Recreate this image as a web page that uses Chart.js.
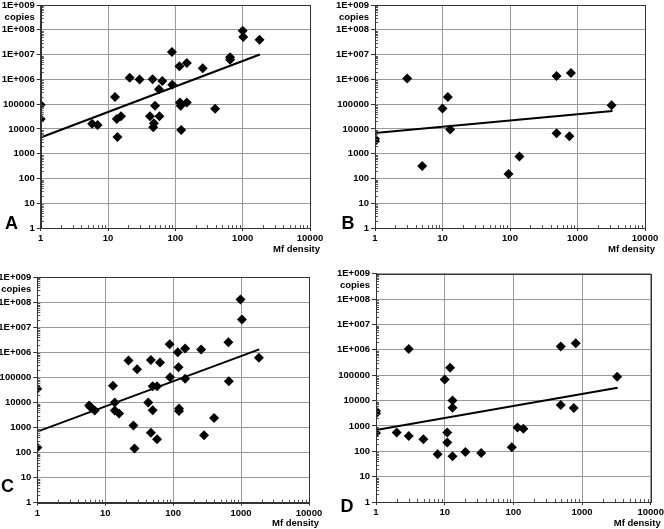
<!DOCTYPE html>
<html>
<head>
<meta charset="utf-8">
<script src="https://cdn.jsdelivr.net/npm/chart.js@4/dist/chart.umd.min.js"></script>
<style>
  html, body { margin: 0; padding: 0; background: #fff; }
  #wrap { position: relative; width: 664px; height: 529px; background: #fff; overflow: hidden; }
  .panel { position: absolute; }
</style>
</head>
<body>
<div id="wrap">
  <div class="panel" style="left:0;top:0;width:332px;height:262px"><canvas id="cA"></canvas></div>
  <div class="panel" style="left:332px;top:0;width:332px;height:262px"><canvas id="cB"></canvas></div>
  <div class="panel" style="left:0;top:262px;width:332px;height:267px"><canvas id="cC"></canvas></div>
  <div class="panel" style="left:332px;top:262px;width:332px;height:267px"><canvas id="cD"></canvas></div>
</div>
<script>
// ---- tick values and labels ----
const xTickValues = [1, 10, 100, 1000, 10000];
const xTickLabels = ['1', '10', '100', '1000', '10000'];
const yTickValues = [1, 10, 100, 1000, 10000, 100000, 1e6, 1e7, 1e8, 1e9];
const yTickLabels = ['1', '10', '100', '1000', '10000', '100000', '1E+006', '1E+007', '1E+008', '1E+009'];
const panelLetters = ['A', 'B', 'C', 'D'];
const xTitle = 'Mf density';
const yTitle = 'copies';

// ---- panel A ----
const aX = [1, 1, 5.8, 7, 12.7, 13.5, 13.8, 15.6, 21, 29.4, 42, 46, 47, 48, 50, 57, 58, 64, 89, 90, 115, 117, 120, 122, 148, 148, 255, 390, 650, 650, 1000, 1020, 1780];
const aY = [95000, 25000, 16000, 14500, 195000, 25000, 4700, 32000, 1170000, 980000, 32000, 1000000, 11700, 17000, 86000, 400000, 32000, 850000, 12600000, 610000, 3400000, 117000, 86000, 9100, 4600000, 117000, 2800000, 65000, 7800000, 6200000, 91000000, 51000000, 40000000];
const aFitX = [1, 1800];
const aFitY = [4500, 10000000];

// ---- panel B ----
const bX = [1, 1, 3, 5, 10, 12, 13, 95, 138, 490, 490, 760, 800, 3200];
const bY = [4000, 3200, 1070000, 320, 67000, 195000, 9400, 150, 760, 1350000, 6700, 5100, 1800000, 89000];
const bFitX = [1, 3300];
const bFitY = [6900, 53000];

// ---- panel C ----
const cX = [1, 1, 5.8, 6.1, 7, 13, 13.8, 13.8, 16, 22, 26, 27, 29.5, 43, 47, 47, 50, 50, 58, 58, 64, 89, 90, 117, 120, 122, 122, 150, 150, 258, 285, 400, 650, 660, 980, 1030, 1830];
const cY = [35000, 160, 7500, 6400, 4800, 46000, 10000, 4800, 3600, 470000, 1200, 145, 210000, 10000, 490000, 620, 44000, 4900, 44000, 340, 390000, 2100000, 100000, 1000000, 250000, 5700, 4500, 1400000, 87000, 1300000, 490, 2400, 2500000, 69000, 126000000, 20000000, 600000];
const cFitX = [1, 1850];
const cFitY = [680, 1300000];

// ---- panel D ----
const dX = [1, 1, 1, 2, 3, 3, 4.9, 7.9, 10, 10.9, 10.9, 12, 13, 13, 13, 20, 34, 95, 115, 140, 490, 490, 760, 810, 3250];
const dY = [3900, 3100, 520, 550, 1070000, 400, 300, 76, 68000, 550, 220, 195000, 10000, 5200, 63, 94, 86, 145, 860, 780, 1350000, 6600, 5100, 1800000, 86000];
const dFitX = [1, 3300];
const dFitY = [690, 32000];

const FONT = '"Liberation Sans", Arial, sans-serif';

function toPts(xs, ys) { return xs.map((x, i) => ({ x: x, y: ys[i] })); }

// layout of each panel (canvas-relative chart area + text positions)
const layouts = [
  { id: 'cA', left: 40.7, top: 2.7, right: 22, bottom: 34, letterX: 11.5, letterY: 224, X: aX, Y: aY, FX: aFitX, FY: aFitY },
  { id: 'cB', left: 43, top: 2.7, right: 19, bottom: 34, letterX: 16, letterY: 224, X: bX, Y: bY, FX: bFitX, FY: bFitY },
  { id: 'cC', left: 37.3, top: 15, right: 23, bottom: 26.3, letterX: 7.5, letterY: 225, X: cX, Y: cY, FX: cFitX, FY: cFitY },
  { id: 'cD', left: 44, top: 11.7, right: 13.3, bottom: 27, letterX: 15, letterY: 245, X: dX, Y: dY, FX: dFitX, FY: dFitY }
];

const decorPlugin = {
  id: 'decor',
  afterDraw(chart, args, opts) {
    const ctx = chart.ctx;
    const ca = chart.chartArea;
    const xs = chart.scales.x, ys = chart.scales.y;
    ctx.save();
    // minor ticks (inward)
    ctx.strokeStyle = '#555';
    ctx.lineWidth = 1;
    ctx.beginPath();
    for (let d = 0; d < xTickValues.length - 1; d++) {
      for (let m = 2; m <= 9; m++) {
        const px = Math.round(xs.getPixelForValue(m * xTickValues[d])) + 0.5;
        ctx.moveTo(px, ca.bottom);
        ctx.lineTo(px, ca.bottom - 3);
      }
    }
    for (let d = 0; d < yTickValues.length - 1; d++) {
      for (let m = 2; m <= 9; m++) {
        const py = Math.round(ys.getPixelForValue(m * yTickValues[d])) + 0.5;
        ctx.moveTo(ca.left, py);
        ctx.lineTo(ca.left + 3, py);
      }
    }
    ctx.stroke();
    // frame
    ctx.strokeStyle = '#333';
    ctx.strokeRect(Math.round(ca.left) + 0.5, Math.round(ca.top) + 0.5, Math.round(ca.right - ca.left), Math.round(ca.bottom - ca.top));
    // texts
    ctx.fillStyle = '#000';
    ctx.font = 'bold 9.5px ' + FONT;
    ctx.textAlign = 'right';
    ctx.textBaseline = 'middle';
    ctx.fillText(yTitle, ca.left - 6, ca.top + 12);
    ctx.fillText(xTitle, ca.right + 10, ca.bottom + 21);
    ctx.font = 'bold 18px ' + FONT;
    ctx.textAlign = 'center';
    ctx.fillText(opts.letter, opts.letterX, opts.letterY);
    ctx.restore();
  }
};

layouts.forEach((L, i) => {
  const ctx = document.getElementById(L.id);
  new Chart(ctx, {
    type: 'scatter',
    data: {
      datasets: [
        {
          data: toPts(L.X, L.Y),
          pointStyle: 'rectRot',
          pointRadius: 5,
          pointHoverRadius: 5,
          backgroundColor: '#000',
          borderColor: '#000',
          borderWidth: 0,
          clip: 0
        },
        {
          data: toPts(L.FX, L.FY),
          showLine: true,
          borderColor: '#000',
          borderWidth: 2,
          pointRadius: 0,
          fill: false
        }
      ]
    },
    options: {
      responsive: true,
      maintainAspectRatio: false,
      animation: false,
      events: [],
      layout: { padding: { left: 0, top: L.top, right: L.right, bottom: 0 } },
      plugins: {
        legend: { display: false },
        tooltip: { enabled: false },
        decor: { letter: panelLetters[i], letterX: L.letterX, letterY: L.letterY }
      },
      scales: {
        x: {
          type: 'logarithmic',
          min: 1, max: 10000,
          afterBuildTicks: s => { s.ticks = xTickValues.map(v => ({ value: v })); },
          afterFit: s => { s.height = L.bottom; s.paddingLeft = 0; s.paddingRight = 0; },
          grid: { color: '#9a9a9a', lineWidth: 1, tickLength: 3, tickColor: '#333', drawTicks: true },
          border: { display: true, color: '#333', width: 1 },
          ticks: {
            autoSkip: false, maxRotation: 0, padding: 2,
            color: '#000',
            font: { family: FONT, size: 9.5, weight: 'bold' },
            callback: (v) => { const k = xTickValues.indexOf(v); return k >= 0 ? xTickLabels[k] : ''; }
          }
        },
        y: {
          type: 'logarithmic',
          min: 1, max: 1e9,
          afterBuildTicks: s => { s.ticks = yTickValues.map(v => ({ value: v })); },
          afterFit: s => { s.width = L.left; s.paddingTop = 0; s.paddingBottom = 0; },
          grid: { color: '#9a9a9a', lineWidth: 1, tickLength: 4, tickColor: '#333', drawTicks: true },
          border: { display: true, color: '#333', width: 1 },
          ticks: {
            autoSkip: false, padding: 2,
            color: '#000',
            font: { family: FONT, size: 9.5, weight: 'bold' },
            callback: (v) => { const k = yTickValues.indexOf(v); return k >= 0 ? yTickLabels[k] : ''; }
          }
        }
      }
    },
    plugins: [decorPlugin]
  });
});
</script>
</body>
</html>
